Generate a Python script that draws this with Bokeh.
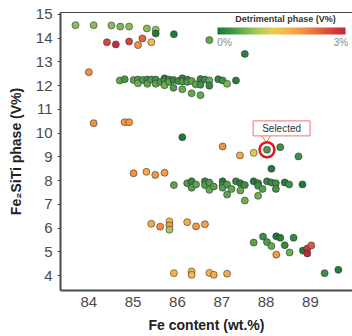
import math
from bokeh.plotting import figure
from bokeh.models import (ColumnDataSource, LinearColorMapper, ColorBar, Label,
                          LinearAxis, FixedTicker, Range1d, PolyAnnotation)
from bokeh.embed import file_html
from bokeh.resources import INLINE

# ---- data ----
fe_content = [
    83.70, 84.11, 84.51, 84.71, 84.91, 85.31, 85.51, 85.51, 85.92, 86.72, 87.52,
    84.41, 84.61, 84.91, 85.21, 85.11, 85.41, 84.00,
    84.70, 84.81, 85.01, 85.11, 85.11, 85.22, 85.32, 85.32, 85.41, 85.51, 85.51,
    85.62, 85.71, 85.71, 85.71, 85.81, 85.81, 85.91, 85.91, 86.02, 86.11, 86.11,
    86.11, 86.22, 86.22, 86.32, 86.32, 86.41, 86.52, 86.52, 86.52, 86.62, 86.72,
    86.72, 86.92, 87.02, 87.12, 87.32,
    84.11, 84.81, 84.91, 86.11, 87.02, 87.41, 87.72, 88.02, 88.32, 88.73, 88.12,
    85.01, 85.30, 85.50, 85.71,
    85.92, 86.22, 86.32, 86.32, 86.42, 86.62, 86.62, 86.72, 86.72, 86.82, 87.02,
    87.02, 87.02, 87.12, 87.12, 87.22, 87.32, 87.42, 87.42, 87.52, 87.52, 87.72,
    87.82, 87.82, 87.82, 87.92, 88.02, 88.12, 88.22, 88.22, 88.42, 88.52, 88.82,
    85.41, 85.61, 85.82, 85.82, 85.82, 86.22, 86.42, 86.62,
    87.72, 87.93, 88.02, 88.12, 88.23, 88.32, 88.23, 88.42, 88.53, 88.62, 88.83,
    88.93, 88.93, 89.02, 89.32, 89.63,
    85.92, 86.32, 86.32, 86.72, 86.82, 87.12,
]
fe2siti_phase = [
    14.55, 14.55, 14.54, 14.49, 14.49, 14.41, 14.36, 14.20, 14.17, 13.92, 13.34,
    13.83, 13.74, 13.86, 13.99, 13.71, 13.83, 12.57,
    12.22, 12.27, 12.24, 12.26, 12.10, 12.24, 12.26, 12.08, 12.26, 12.26, 12.08,
    12.16, 12.31, 12.22, 12.02, 12.26, 12.16, 12.24, 11.91, 12.20, 12.31, 12.18,
    11.85, 12.26, 12.16, 12.20, 11.68, 12.06, 12.28, 12.04, 11.60, 12.26, 12.22,
    12.00, 12.27, 12.22, 12.08, 12.22,
    10.42, 10.46, 10.46, 9.83, 9.44, 9.06, 9.17, 9.30, 9.41, 9.02, 8.50,
    8.31, 8.37, 8.24, 8.33,
    7.81, 7.89, 7.97, 7.70, 7.84, 7.97, 7.81, 7.92, 7.61, 7.75, 7.97,
    7.81, 7.70, 7.84, 7.41, 7.65, 7.97, 7.89, 7.58, 7.81, 7.16, 7.97,
    7.89, 7.78, 7.36, 7.65, 7.97, 7.92, 7.89, 7.65, 7.92, 7.84, 7.84,
    6.18, 6.06, 6.28, 6.12, 5.93, 6.25, 6.07, 6.16,
    5.39, 5.64, 5.41, 5.24, 5.65, 5.59, 4.88, 5.28, 4.97, 5.59, 5.05,
    5.14, 4.93, 5.27, 4.10, 4.24,
    4.10, 4.17, 4.03, 4.11, 4.03, 4.08,
]
detrimental_phase = [
    0.75, 0.75, 0.75, 0.7, 0.75, 0.75, 0.8, 0.05, 0.05, 0.55, 0.15,
    2.65, 2.9, 2.7, 2.4, 2.0, 1.55, 2.0,
    0.55, 0.35, 0.5, 0.4, 0.6, 0.4, 0.3, 0.5, 0.4, 0.3, 0.5,
    0.4, 0.2, 0.3, 0.6, 0.3, 0.5, 0.2, 0.4, 0.3, 0.2, 0.4,
    0.55, 0.3, 0.4, 0.5, 0.55, 0.5, 0.2, 0.3, 0.55, 0.3, 0.55,
    0.2, 0.2, 0.3, 0.65, 0.1,
    2.0, 1.9, 1.9, 0.05, 2.0, 1.75, 1.2, 0.4, 0.3, 0.3, 0.05,
    2.0, 1.75, 1.95, 1.85,
    0.5, 0.4, 0.2, 0.45, 0.5, 0.2, 0.4, 0.4, 0.55, 0.45, 0.1,
    0.3, 0.45, 0.4, 0.5, 0.55, 0.2, 0.1, 0.55, 0.3, 0.6, 0.1,
    0.2, 0.3, 0.6, 0.45, 0.2, 0.2, 0.3, 0.35, 0.1, 0.3, 0.05,
    1.75, 2.0, 1.5, 1.9, 0.9, 1.7, 1.9, 1.85,
    0.5, 0.3, 0.4, 0.55, 0.05, 0.1, 1.9, 0.2, 0.6, 0.2, 0.05,
    2.8, 3.0, 2.5, 0.3, 0.1,
    1.6, 1.5, 1.6, 1.6, 1.7, 1.7,
]
x_ticks = [84, 85, 86, 87, 88, 89]
y_ticks = [4, 5, 6, 7, 8, 9, 10, 11, 12, 13, 14, 15]
selected_fe, selected_phase = 88.02, 9.30
cbar_low, cbar_high = 0, 3

# ---- palette ----
stops = [(0.0, "#1a7438"), (0.3, "#3f9146"), (0.6, "#6cb050"), (0.9, "#a9c85a"),
         (1.3, "#e8cf4e"), (1.6, "#f8b546"), (2.0, "#f39140"), (2.4, "#e6623c"),
         (2.7, "#d6403c"), (3.0, "#c3243c")]


def h2r(h):
    return tuple(int(h[i:i + 2], 16) for i in (1, 3, 5))


palette = []
for i in range(256):
    v = 3.0 * i / 255
    for (a, ca), (b, cb) in zip(stops[:-1], stops[1:]):
        if a <= v <= b:
            t = (v - a) / (b - a)
            r1, r2 = h2r(ca), h2r(cb)
            palette.append("#%02x%02x%02x" % tuple(int(round(r1[k] + (r2[k] - r1[k]) * t)) for k in range(3)))
            break

mapper = LinearColorMapper(palette=palette, low=cbar_low, high=cbar_high)

FONT = "Liberation Sans"

p = figure(frame_width=292, frame_height=278,
           x_range=Range1d(83.362, 89.949), y_range=Range1d(3.369, 15.084),
           output_backend="svg", toolbar_location=None,
           min_border_left=60, min_border_right=0, min_border_top=12, min_border_bottom=46)
p.grid.visible = False
p.outline_line_color = None
p.background_fill_color = "white"

for ax in (p.xaxis[0], p.yaxis[0]):
    ax.axis_line_width = 2
    ax.axis_line_color = "#4a4a4a"
    ax.major_label_text_font = FONT
    ax.major_label_text_font_size = "15px"
    ax.major_label_text_color = "#4a4a4a"
    ax.axis_label_text_font = FONT
    ax.axis_label_text_font_size = "14px"
    ax.axis_label_text_font_style = "bold"
    ax.axis_label_text_color = "#222222"
    ax.minor_tick_line_color = None
    ax.major_tick_line_color = "#4a4a4a"
    ax.major_tick_in = 0

p.xaxis.ticker = FixedTicker(ticks=x_ticks)
p.yaxis.ticker = FixedTicker(ticks=y_ticks)
p.xaxis.major_tick_out = 0
p.xaxis.major_label_standoff = 6
p.xaxis.axis_label_standoff = 7
p.yaxis.major_tick_out = 3
p.yaxis.major_label_standoff = 5
p.yaxis.axis_label_standoff = 9
p.xaxis.axis_label = "Fe content (wt.%)"
p.yaxis.axis_label = "Fe\u2082SiTi phase (V%)"

top = LinearAxis(ticker=FixedTicker(ticks=[]), axis_line_width=1.2, axis_line_color="#4a4a4a",
                 major_tick_out=0, major_tick_in=0, minor_tick_out=0, minor_tick_in=0)
p.add_layout(top, "above")

# decorative yellow disc peeking in at the top-left corner
def px2x(px):
    return 84 + (px - 88.3) / 44.33


def py2y(py):
    return 15 - (py - 14) / 23.73


ang = [2 * math.pi * k / 60 for k in range(60)]
p.add_layout(PolyAnnotation(xs=[px2x(-5 + 30 * math.cos(a)) for a in ang],
                            ys=[py2y(-15 + 30 * math.sin(a)) for a in ang],
                            fill_color="#f5c21b", fill_alpha=1, line_color=None))

src = ColumnDataSource(dict(x=fe_content, y=fe2siti_phase, d=detrimental_phase))
p.scatter("x", "y", source=src, size=7, fill_color={"field": "d", "transform": mapper},
          line_color="#333333", line_width=0.7, line_alpha=0.85)

# colour bar
cbar = ColorBar(color_mapper=mapper, orientation="horizontal", width=128, height=7,
                location=(157, 256), padding=0, ticker=FixedTicker(ticks=[]),
                major_tick_line_color=None, minor_tick_line_color=None,
                bar_line_color=None, background_fill_color=None, border_line_color=None,
                label_standoff=0)
p.add_layout(cbar, "center")
p.scatter([px2x(283)], [py2y(32.5)], size=2.5, fill_color="#555555", line_color=None)

p.add_layout(Label(x=88.44, y=14.79, text="Detrimental phase (V%)", text_font=FONT,
                   text_font_size="9px", text_font_style="bold", text_color="#333333",
                   text_align="center", text_baseline="middle"))
p.add_layout(Label(x=86.90, y=13.82, text="0%", text_font=FONT, text_font_size="10px",
                   text_color="#8a8a8a", text_align="left", text_baseline="middle"))
p.add_layout(Label(x=89.85, y=13.82, text="3%", text_font=FONT, text_font_size="10px",
                   text_color="#8a8a8a", text_align="right", text_baseline="middle"))

# selected annotation
p.line([87.896, 88.009, 88.10], [9.90, 9.606, 9.90], line_color="#f07070", line_width=1)
p.add_layout(Label(x=88.35, y=10.20, text="Selected", text_font=FONT, text_font_size="10px",
                   text_color="#333333", text_align="center", text_baseline="middle",
                   background_fill_color="white", border_line_color="#f07070",
                   border_line_width=1, padding=(9, 2)))
p.scatter([selected_fe], [selected_phase], size=15, fill_color=None,
          line_color="#e8141c", line_width=2.5)

open("out.html", "w").write(file_html(p, INLINE))
